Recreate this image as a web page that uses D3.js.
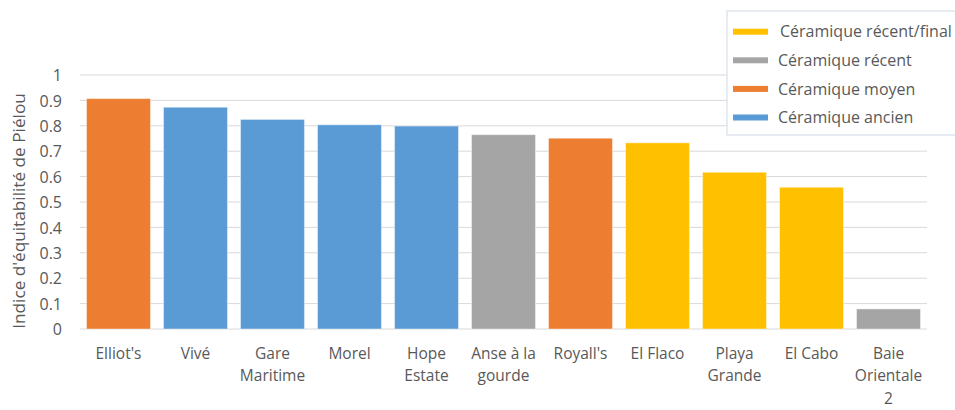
<!DOCTYPE html>
<html>
<head>
<meta charset="utf-8">
<script src="https://cdn.jsdelivr.net/npm/d3@7"></script>
<style>
  body { margin: 0; background: #fff; }
  text { font-family: "Open Sans", sans-serif; fill: #595959; }
</style>
</head>
<body>
<div id="chart"></div>
<script>
const WIDTH = 955;
const HEIGHT = 410;

// data
const sites = ["Elliot's", "Vivé", "Gare Maritime", "Morel", "Hope Estate", "Anse à la gourde",
  "Royall's", "El Flaco", "Playa Grande", "El Cabo", "Baie Orientale 2"];
const pielou = [0.907, 0.873, 0.825, 0.804, 0.799, 0.765, 0.751, 0.733, 0.617, 0.558, 0.079];
const periods = ["moyen", "ancien", "ancien", "ancien", "ancien", "recent",
  "moyen", "final", "final", "final", "recent"];
const yTicks = [0, 0.1, 0.2, 0.3, 0.4, 0.5, 0.6, 0.7, 0.8, 0.9, 1];
const legendKeys = ["final", "recent", "moyen", "ancien"];
const legendLabels = ["Céramique récent/final", "Céramique récent", "Céramique moyen", "Céramique ancien"];

const COLORS = { final: "#FFC000", recent: "#A5A5A5", moyen: "#ED7D31", ancien: "#5B9BD5" };

const MARGIN = { TOP: 75, BOTTOM: 81, LEFT: 80, RIGHT: 28 };
const widthPlot = WIDTH - MARGIN.LEFT - MARGIN.RIGHT;
const heightPlot = HEIGHT - MARGIN.TOP - MARGIN.BOTTOM;

const SVG = d3.select('#chart')
    .append('svg')
    .attr('width', WIDTH)
    .attr('height', HEIGHT);

const container = SVG.append("g")
    .attr("transform", `translate(${MARGIN.LEFT}, ${MARGIN.TOP})`);

const x = d3.scaleBand()
    .domain(sites)
    .range([0, widthPlot])
    .paddingInner(0.17)
    .paddingOuter(0.085);

const y = d3.scaleLinear()
    .domain([0, 1])
    .range([heightPlot, 0]);

// gridlines
container.append("g")
    .selectAll("line")
    .data(yTicks)
    .enter()
    .append("line")
    .attr("x1", 0)
    .attr("x2", widthPlot)
    .attr("y1", d => y(d))
    .attr("y2", d => y(d))
    .attr("stroke", "#d9d9d9")
    .attr("stroke-width", 1);

// y axis
const yAxis = container.append("g")
    .attr("transform", "translate(-18,0)")
    .call(d3.axisLeft(y).tickValues(yTicks).tickSize(0).tickPadding(0).tickFormat(d3.format("")));
yAxis.select(".domain").remove();
yAxis.selectAll("text")
    .style("font-size", "16px")
    .attr("dy", "0.35em");

// bars
container.selectAll(".bar")
    .data(sites)
    .enter()
    .append("rect")
    .attr("class", "bar")
    .attr("x", d => x(d))
    .attr("width", x.bandwidth())
    .attr("y", (d, i) => y(pielou[i]))
    .attr("height", (d, i) => y(0) - y(pielou[i]))
    .attr("fill", (d, i) => COLORS[periods[i]])
    .attr("stroke", "#ffffff")
    .attr("stroke-opacity", 0.4)
    .attr("stroke-width", 1);

// x axis labels with wrapping
const wrap = (sel, width) => {
    sel.each(function () {
        const text = d3.select(this);
        const words = text.text().split(/\s+/);
        text.text(null);
        let line = [];
        let tspan = text.append("tspan").attr("x", 0).attr("dy", 0);
        words.forEach(w => {
            line.push(w);
            tspan.text(line.join(" "));
            if (tspan.node().getComputedTextLength() > width && line.length > 1) {
                line.pop();
                tspan.text(line.join(" "));
                line = [w];
                tspan = text.append("tspan").attr("x", 0).attr("dy", "22.5px").text(w);
            }
        });
    });
};

const xAxis = container.append("g")
    .attr("transform", `translate(0, ${heightPlot})`)
    .call(d3.axisBottom(x).tickSize(0).tickPadding(0));
xAxis.select(".domain").remove();
xAxis.selectAll("text")
    .style("font-size", "15.5px")
    .attr("y", 29.5)
    .attr("dy", 0)
    .call(wrap, 74);

// y axis title
SVG.append("text")
    .attr("transform", "translate(25, 211) rotate(-90)")
    .attr("text-anchor", "middle")
    .style("font-size", "17.2px")
    .text("Indice d'équitabilité de Piélou");

// legend
const legend = SVG.append("g").attr("transform", "translate(727, 11)");
legend.append("rect")
    .attr("width", 240)
    .attr("height", 124)
    .attr("fill", "#ffffff")
    .attr("stroke", "#dfe6f0")
    .attr("stroke-width", 1.5);

const items = legend.selectAll(".item")
    .data(legendKeys)
    .enter()
    .append("g")
    .attr("class", "item")
    .attr("transform", (d, i) => `translate(0, ${20.7 + i * 28.6})`);

items.append("rect")
    .attr("x", 6)
    .attr("y", -3)
    .attr("width", 35)
    .attr("height", 6)
    .attr("fill", d => COLORS[d]);

items.append("text")
    .attr("x", (d, i) => i === 0 ? 53 : 51)
    .attr("dy", "0.35em")
    .style("font-size", "16px")
    .text((d, i) => legendLabels[i]);
</script>
</body>
</html>
